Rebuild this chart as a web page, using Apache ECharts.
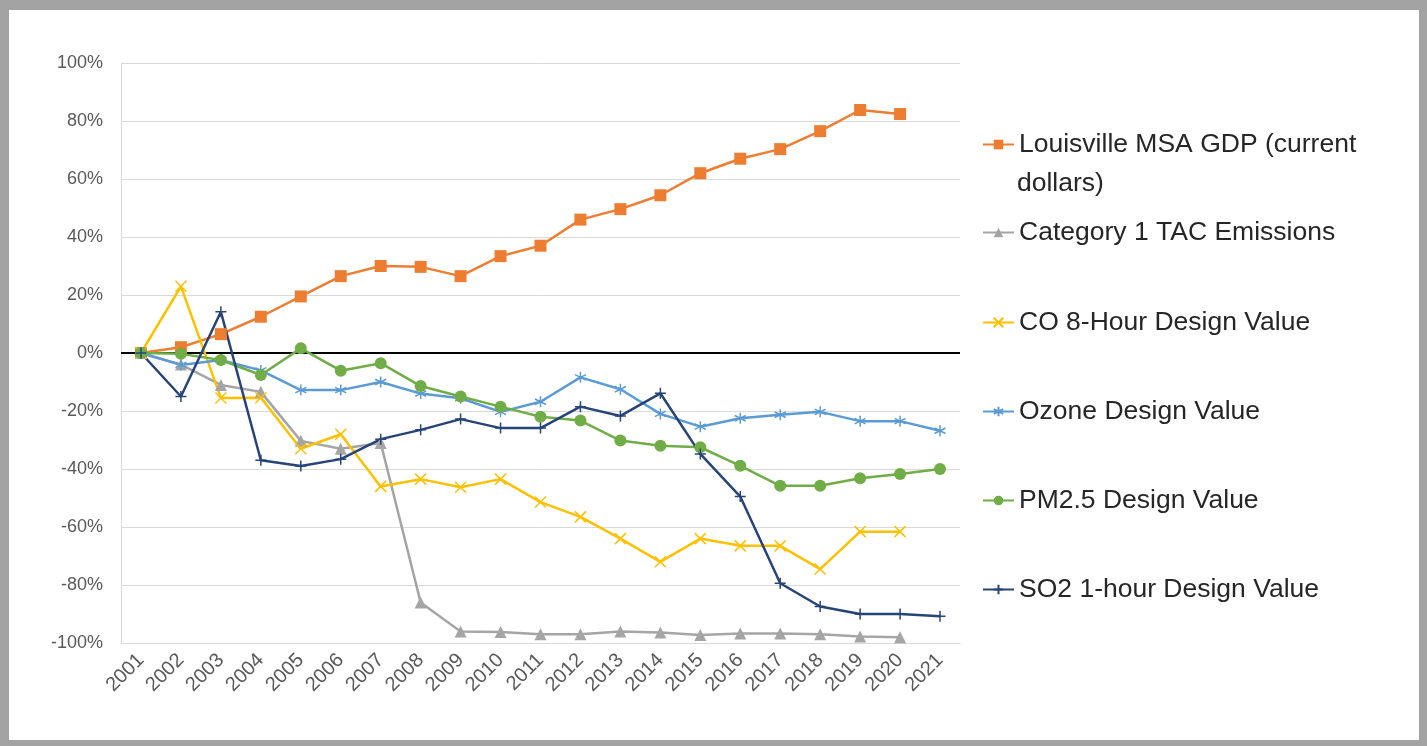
<!DOCTYPE html>
<html>
<head>
<meta charset="utf-8">
<script src="https://cdn.jsdelivr.net/npm/echarts@6/dist/echarts.min.js"></script>
<style>
  html, body { margin: 0; padding: 0; background: #a3a3a3; }
  #frame { position: absolute; left: 9px; top: 10px; width: 1410px; height: 730px; background: #fff; }
  #chart { width: 1410px; height: 730px; }
</style>
</head>
<body>
<div id="frame"><div id="chart"></div></div>
<script>
// years on the x axis
var years = ['2001', '2002', '2003', '2004', '2005', '2006', '2007', '2008', '2009', '2010', '2011',
  '2012', '2013', '2014', '2015', '2016', '2017', '2018', '2019', '2020', '2021'];

// % change since 2001
var gdp = [0, 2, 6.5, 12.5, 19.5, 26.5, 30, 29.7, 26.5, 33.4, 37, 46, 49.6, 54.4, 62, 67, 70.3, 76.5, 83.8, 82.4, null];
var tac = [0, -4, -11, -13.4, -30.3, -33, -31, -86, -96, -96.2, -97, -97, -96, -96.4, -97.2, -96.7, -96.7, -97, -97.8, -98, null];
var co = [0, 23, -15.5, -15.4, -33, -28, -46, -43.5, -46.3, -43.5, -51.4, -56.5, -64, -72, -64, -66.5, -66.5, -74.5, -61.6, -61.6, null];
var ozone = [0, -4.1, -2.4, -6, -12.8, -12.8, -10, -14, -15.6, -20.3, -16.8, -8.4, -12.5, -21, -25.4, -22.5, -21.3, -20.3, -23.5, -23.5, -26.8];
var pm25 = [0, -0.3, -2.4, -7.6, 1.6, -6.1, -3.5, -11.4, -15, -18.5, -22, -23.3, -30.2, -32, -32.5, -38.9, -45.8, -45.8, -43.2, -41.7, -40];
var so2 = [0, -15, 14.2, -37, -39, -36.6, -29.7, -26.5, -22.8, -25.9, -25.9, -18.5, -21.7, -13.9, -34.8, -49.5, -79.4, -87.4, -90, -90, -90.8];

var names = ['Louisville MSA GDP (current dollars)', 'Category 1 TAC Emissions', 'CO 8-Hour Design Value',
  'Ozone Design Value', 'PM2.5 Design Value', 'SO2 1-hour Design Value'];
var colors = ['#ED7D31', '#A5A5A5', '#FFC000', '#5B9BD5', '#70AD47', '#264478'];

// marker paths for the Excel style symbols
var xMark = 'path://M0,0L10,10M10,0L0,10';
var starMark = 'path://M5,0L5,10M0,2.5L10,7.5M0,7.5L10,2.5';
var plusMark = 'path://M5,0L5,10M0,5L10,5';

var font = '"Liberation Sans", Arial, sans-serif';
var chart = echarts.init(document.getElementById('chart'));

function lineSeries(i, data, symbol, size, strokeOnly) {
  return {
    name: names[i],
    type: 'line',
    data: data,
    symbol: symbol,
    symbolSize: size,
    showAllSymbol: true,
    connectNulls: false,
    lineStyle: { color: colors[i], width: 2.5 },
    itemStyle: strokeOnly
      ? { color: 'none', borderColor: colors[i], borderWidth: 1.5 }
      : { color: colors[i], borderWidth: 0 },
    emphasis: { disabled: true },
    z: 3
  };
}

var legendTops = [116, 204, 294, 383, 472, 561];
var legends = names.map(function (n, i) {
  return {
    data: [n],
    left: 968,
    top: legendTops[i],
    itemWidth: 31,
    itemHeight: 12,
    itemGap: 4,
    selectedMode: false,
    formatter: function (name) {
      return name === names[0] ? 'Louisville MSA GDP (current' : name;
    },
    textStyle: { fontFamily: font, fontSize: 26.5, color: '#262626' }
  };
});

var option = {
  animation: false,
  color: colors,
  grid: { left: 112, right: 459, top: 53, bottom: 97, containLabel: false },
  legend: legends,
  graphic: [{
    type: 'text',
    left: 1008,
    top: 160,
    style: { text: 'dollars)', font: '26.5px ' + font, fill: '#262626' }
  }],
  xAxis: {
    type: 'category',
    data: years,
    boundaryGap: true,
    axisLine: { onZero: false, lineStyle: { color: '#d9d9d9', width: 1 } },
    axisTick: { show: false },
    axisLabel: { rotate: 45, fontFamily: font, fontSize: 20, color: '#595959', margin: 14, interval: 0 }
  },
  yAxis: {
    type: 'value',
    min: -100,
    max: 100,
    interval: 20,
    axisLine: { show: true, lineStyle: { color: '#d9d9d9', width: 1 } },
    axisTick: { show: false },
    splitLine: { lineStyle: { color: '#d9d9d9', width: 1 } },
    axisLabel: { formatter: '{value}%', fontFamily: font, fontSize: 18, color: '#595959', margin: 18 }
  },
  series: [
    lineSeries(0, gdp, 'rect', 12, false),
    lineSeries(1, tac, 'triangle', 12, false),
    lineSeries(2, co, xMark, 11, true),
    lineSeries(3, ozone, starMark, 11, true),
    lineSeries(4, pm25, 'circle', 12, false),
    lineSeries(5, so2, plusMark, 11, true)
  ]
};

// black zero line
option.series[0].markLine = {
  silent: true,
  symbol: 'none',
  label: { show: false },
  lineStyle: { color: '#000', width: 2, type: 'solid' },
  data: [{ yAxis: 0 }],
  z: 1
};

chart.setOption(option);
</script>
</body>
</html>
